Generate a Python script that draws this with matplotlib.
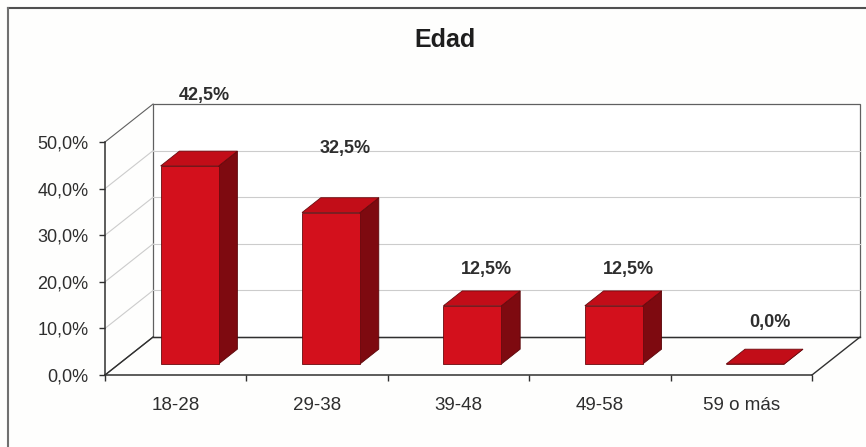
import matplotlib.pyplot as plt
from matplotlib.patches import Polygon

plt.rcParams['font.family'] = ['Liberation Sans', 'DejaVu Sans']

categories = ['18-28', '29-38', '39-48', '49-58', '59 o más']
values = [42.5, 32.5, 12.5, 12.5, 0.0]
label_pad = [12.0, 10.5, 4.7, 4.7, 5.7]   # excel places labels a bit unevenly
yticks = [0, 10, 20, 30, 40, 50]

# fake 3d: depth offset in data units
DX = 0.34
DY = 8.15
d0, d1 = 0.29, 0.68     # bar front / back depth
bw = 0.41

front_c = '#d3101c'
top_c = '#c20d18'
side_c = '#7e0a10'
grid_c = '#cccccc'
edge_c = '#606060'
txt_c = '#2e2e2e'


def P(x, v, d):
    return (x + DX * d, v + DY * d)


fig = plt.figure(figsize=(8.66, 4.47), dpi=100)
fig.patch.set_facecolor('#fefefd')
ax = fig.add_axes([105 / 866, 72 / 447, 707 / 866, 233 / 447])
ax.set_facecolor('none')
n = len(categories)
ax.set_xlim(0, n)
ax.set_ylim(0, 50)

# back wall
wall = Polygon([P(0, 0, 1), P(n, 0, 1), P(n, 50, 1), P(0, 50, 1)], closed=True,
               facecolor='white', edgecolor=edge_c, lw=0.9, clip_on=False, zorder=1)
ax.add_patch(wall)
for t in yticks[1:-1]:
    a, b = P(0, t, 1), P(n, t, 1)
    ax.plot([a[0], b[0]], [a[1], b[1]], color=grid_c, lw=0.8, clip_on=False, zorder=1.5)
# side wall gridlines
for t in yticks:
    a, b = P(0, t, 0), P(0, t, 1)
    ax.plot([a[0], b[0]], [a[1], b[1]], color=grid_c if 0 < t < 50 else edge_c,
            lw=0.8, clip_on=False, zorder=1.5)
# floor edges
for x0 in (0, n):
    a, b = P(x0, 0, 0), P(x0, 0, 1)
    ax.plot([a[0], b[0]], [a[1], b[1]], color='#303030', lw=1.0, clip_on=False, zorder=1.6)
a, b = P(0, 0, 1), P(n, 0, 1)
ax.plot([a[0], b[0]], [a[1], b[1]], color='#303030', lw=1.0, clip_on=False, zorder=1.6)

# bars
for i, v in enumerate(values):
    xl = i + 0.5 - bw / 2
    xr = i + 0.5 + bw / 2
    side = Polygon([P(xr, 0, d0), P(xr, v, d0), P(xr, v, d1), P(xr, 0, d1)],
                   facecolor=side_c, edgecolor='#5a0508', lw=0.6, clip_on=False, zorder=3)
    front = Polygon([P(xl, 0, d0), P(xr, 0, d0), P(xr, v, d0), P(xl, v, d0)],
                    facecolor=front_c, edgecolor='#6a0a0e', lw=0.6, clip_on=False, zorder=3)
    top = Polygon([P(xl, v, d0), P(xr, v, d0), P(xr, v, d1), P(xl, v, d1)],
                  facecolor=top_c, edgecolor='#6a0a0e', lw=0.6, clip_on=False, zorder=3)
    for p in (side, front, top):
        ax.add_patch(p)
    lx = P(i + 0.5, v, 0.59)[0]
    ly = P(i + 0.5, v, d1)[1]
    ax.text(lx, ly + label_pad[i], f'{v:.1f}%'.replace('.', ','),
            ha='center', va='center', fontsize=13, fontweight='bold', color=txt_c, zorder=5)

# axes
for s in ['top', 'right']:
    ax.spines[s].set_visible(False)
for s in ['left', 'bottom']:
    ax.spines[s].set_color('#303030')
    ax.spines[s].set_linewidth(1.1)
    ax.spines[s].set_zorder(4)
ax.set_yticks(yticks)
ax.set_yticklabels([f'{t:.1f}%'.replace('.', ',') for t in yticks])
ax.tick_params(axis='y', direction='out', length=4, width=1, color='#303030',
               labelsize=13, labelcolor=txt_c, pad=8)
ax.set_xticks(range(n + 1))
ax.set_xticklabels([])
ax.set_xticks([i + 0.5 for i in range(n)], minor=True)
ax.set_xticklabels(categories, minor=True)
ax.tick_params(axis='x', which='major', direction='out', length=4, width=1, color='#303030')
ax.tick_params(axis='x', which='minor', length=0, labelsize=13.5, labelcolor=txt_c, pad=16)

fig.text(445 / 866, 1 - 40 / 447, 'Edad', ha='center', va='center',
         fontsize=18, fontweight='bold', color='#1e1e1e')

# chart frame (scan cuts off right and bottom)
fig.add_artist(plt.Line2D([8 / 866, 1], [1 - 8 / 447, 1 - 8 / 447], color='#505050', lw=1.5))
fig.add_artist(plt.Line2D([8 / 866, 8 / 866], [0, 1 - 8 / 447], color='#707070', lw=1.5))

fig.savefig('out.png', dpi=100, facecolor=fig.get_facecolor())
